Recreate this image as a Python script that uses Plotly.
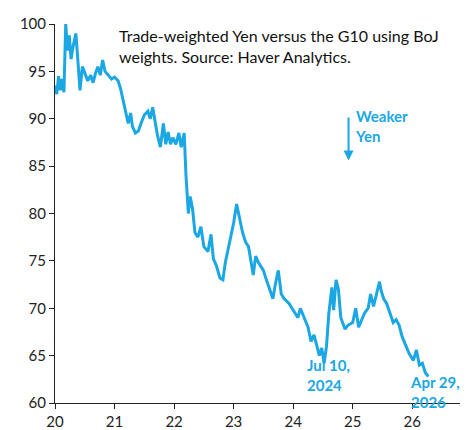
import plotly.graph_objects as go

years = [2020.0,2020.03,2020.06,2020.09,2020.12,2020.15,2020.18,2020.21,2020.24,2020.27,2020.3,2020.35,2020.38,2020.42,2020.46,2020.5,2020.55,2020.6,2020.64,2020.68,2020.72,2020.76,2020.8,2020.84,2020.9,2020.95,2021.0,2021.06,2021.1,2021.14,2021.18,2021.23,2021.27,2021.3,2021.35,2021.4,2021.45,2021.5,2021.56,2021.6,2021.64,2021.68,2021.72,2021.77,2021.82,2021.86,2021.9,2021.94,2021.98,2022.03,2022.08,2022.12,2022.17,2022.2,2022.24,2022.27,2022.31,2022.35,2022.4,2022.45,2022.5,2022.57,2022.62,2022.66,2022.71,2022.77,2022.82,2022.86,2022.9,2022.95,2023.0,2023.05,2023.1,2023.15,2023.2,2023.25,2023.33,2023.37,2023.42,2023.5,2023.55,2023.6,2023.66,2023.7,2023.75,2023.8,2023.85,2023.93,2024.0,2024.08,2024.12,2024.17,2024.25,2024.3,2024.35,2024.44,2024.48,2024.52,2024.56,2024.6,2024.65,2024.68,2024.72,2024.76,2024.8,2024.87,2024.92,2025.0,2025.05,2025.1,2025.14,2025.2,2025.26,2025.3,2025.35,2025.4,2025.45,2025.48,2025.52,2025.57,2025.62,2025.68,2025.73,2025.78,2025.83,2025.9,2025.95,2026.02,2026.07,2026.12,2026.17,2026.22,2026.27,2026.32]
index = [93.5,92.6,94.5,93.0,94.2,92.8,100.0,97.2,98.8,96.3,97.5,99.0,96.5,93.0,95.5,94.8,94.0,94.6,93.8,94.8,95.5,94.6,96.2,95.0,94.5,94.2,94.4,94.0,93.2,92.0,90.8,89.5,90.6,89.2,88.5,88.7,89.6,90.4,90.8,90.0,91.2,89.6,88.3,87.0,89.5,87.3,88.6,87.3,88.0,87.3,88.5,87.0,88.5,84.0,80.0,81.8,80.5,78.0,77.5,78.6,76.5,76.0,77.8,75.2,74.5,73.2,73.0,74.8,76.0,77.5,79.0,81.0,79.5,78.0,77.0,76.5,73.5,75.5,74.8,74.0,73.0,72.0,71.0,72.5,74.0,71.5,71.0,70.5,69.8,69.0,70.0,69.2,68.0,66.5,67.2,65.0,65.8,64.2,66.0,69.5,72.2,69.8,73.0,72.0,69.0,67.8,68.2,68.5,70.0,68.0,68.6,69.5,70.0,71.5,70.2,71.6,72.8,71.8,71.0,70.5,69.5,68.5,68.8,68.2,67.0,66.0,65.2,64.5,65.6,64.0,64.2,63.2,62.8]

tick_vals = [2020, 2021, 2022, 2023, 2024, 2025, 2026]
tick_text = ["20", "21", "22", "23", "24", "25", "26"]

blue = "#1AA7E4"
fig = go.Figure(go.Scatter(x=years, y=index, mode="lines", line=dict(color=blue, width=3)))

fig.update_layout(
    width=468, height=430, margin=dict(l=47, r=6, t=14, b=35),
    plot_bgcolor="white", paper_bgcolor="white", showlegend=False,
    font=dict(family="Lato", size=15, color="#222"),
    xaxis=dict(range=[2020, 2026.97], tickvals=tick_vals, ticktext=tick_text,
               showgrid=False, zeroline=False, showline=True, linecolor="#222",
               ticks="outside", ticklen=5, tickcolor="#222"),
    yaxis=dict(range=[60, 100], dtick=5, showgrid=False, zeroline=False,
               showline=True, linecolor="#222", ticks="outside", ticklen=5, tickcolor="#222"),
)
fig.add_annotation(x=0.15, y=1.0, xref="paper", yref="paper", xanchor="left", yanchor="top",
                   align="left", showarrow=False, font=dict(size=16, color="#111"),
                   text="Trade-weighted Yen versus the G10 using BoJ<br>weights. Source: Haver Analytics.")
fig.add_annotation(x=2024.93, y=85.6, ax=2024.93, ay=90.3, xref="x", yref="y", axref="x", ayref="y",
                   showarrow=True, arrowhead=2, arrowsize=1, arrowwidth=2, arrowcolor=blue, text="",
                   standoff=0, startstandoff=0)
fig.add_annotation(x=2025.0, y=89.2, xref="x", yref="y", xanchor="left", showarrow=False, align="left",
                   text="<b>Weaker<br>Yen</b>", font=dict(size=15, color=blue))
fig.add_annotation(x=2024.2, y=63.0, xref="x", yref="y", xanchor="left", yanchor="middle", showarrow=False,
                   align="left", text="<b>Jul 10,<br>2024</b>", font=dict(size=15, color=blue))
fig.add_annotation(x=2025.93, y=61.2, xref="x", yref="y", xanchor="left", yanchor="middle", showarrow=False,
                   align="left", text="<b>Apr 29,<br>2026</b>", font=dict(size=15, color=blue))
fig.write_html("out.html")
